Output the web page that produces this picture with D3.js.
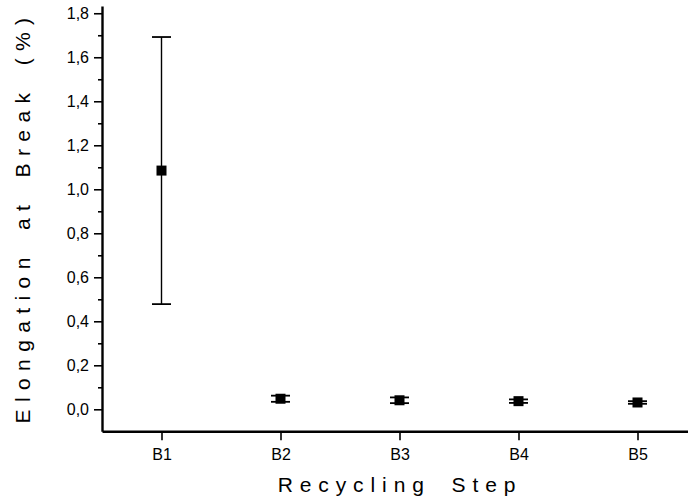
<!DOCTYPE html>
<html>
<head>
<meta charset="utf-8">
<script src="https://cdn.jsdelivr.net/npm/d3@7"></script>
<style>
  html, body { margin: 0; padding: 0; background: #fff; }
  svg { display: block; }
  text { font-family: "Liberation Sans", Arial, sans-serif; fill: #000; }
</style>
</head>
<body>
<svg id="chart" width="688" height="502"></svg>
<script>
// Recycling steps and measured elongation at break (mean ± deviation, %)
const steps = ["B1", "B2", "B3", "B4", "B5"];
const meanValues = [1.085, 0.048, 0.041, 0.037, 0.031];
const errValues = [0.607, 0.014, 0.013, 0.008, 0.006];
const yMajorTicks = [0, 0.2, 0.4, 0.6, 0.8, 1.0, 1.2, 1.4, 1.6, 1.8];
const yMinorTicks = [0.1, 0.3, 0.5, 0.7, 0.9, 1.1, 1.3, 1.5, 1.7];

const svg = d3.select("#chart");

const x = d3.scaleLinear().domain([0.5, 5.5]).range([102, 697]);
const y = d3.scaleLinear().domain([-0.1, 1.833]).range([431.3, 6]);

const fmt = v => d3.format(".1f")(v).replace(".", ",");

// y axis: major ticks with labels, minor ticks without
const yAxis = svg.append("g").attr("transform", "translate(102,0)")
  .call(d3.axisLeft(y).tickValues(yMajorTicks).tickFormat(fmt).tickSize(8).tickSizeOuter(0).tickPadding(5));
yAxis.select(".domain").attr("stroke-width", 2.4);
yAxis.selectAll(".tick line").attr("stroke-width", 1.6);
yAxis.selectAll(".tick text").style("font-size", "16px");

svg.append("g").attr("transform", "translate(102,0)")
  .call(d3.axisLeft(y).tickValues(yMinorTicks).tickFormat("").tickSize(4).tickSizeOuter(0))
  .call(g => g.select(".domain").remove())
  .selectAll(".tick line").attr("stroke-width", 1.6);

// x axis at the bottom of the plot
const xAxis = svg.append("g").attr("transform", "translate(0,431.3)")
  .call(d3.axisBottom(x).tickValues(d3.range(1, steps.length + 1))
    .tickFormat(d => steps[d - 1]).tickSize(9).tickSizeOuter(0).tickPadding(8));
xAxis.select(".domain").attr("stroke-width", 2.4);
xAxis.selectAll(".tick line").attr("stroke-width", 1.6);
xAxis.selectAll(".tick text").style("font-size", "16px");

const pts = steps.map((s, i) => ({ i: i + 1, m: meanValues[i], e: errValues[i] }));

// error bars
const eb = svg.append("g").attr("stroke", "#000").attr("stroke-width", 1.4);
pts.forEach(p => {
  eb.append("line").attr("x1", x(p.i)).attr("x2", x(p.i))
    .attr("y1", y(p.m + p.e)).attr("y2", y(p.m - p.e));
  [p.m + p.e, p.m - p.e].forEach(v => {
    eb.append("line").attr("x1", x(p.i) - 9.5).attr("x2", x(p.i) + 9.5)
      .attr("y1", y(v)).attr("y2", y(v)).attr("stroke-width", 1.8);
  });
});

// square markers
svg.append("g").selectAll("rect").data(pts).join("rect")
  .attr("x", d => x(d.i) - 5).attr("y", d => y(d.m) - 5)
  .attr("width", 10).attr("height", 10).attr("fill", "#000");

// axis titles
svg.append("text")
  .attr("transform", "translate(30,217) rotate(-90)")
  .attr("text-anchor", "middle")
  .style("font-size", "21px").style("letter-spacing", "7.4px").style("word-spacing", "7px")
  .text("Elongation at Break (%)");

svg.append("text")
  .attr("x", 400).attr("y", 492)
  .attr("text-anchor", "middle")
  .style("font-size", "21px").style("letter-spacing", "6.9px").style("word-spacing", "8px")
  .text("Recycling Step");
</script>
</body>
</html>
